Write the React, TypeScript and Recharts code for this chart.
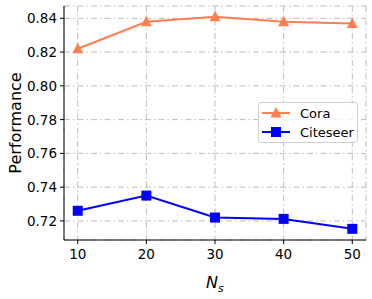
import React from "react"
import { LineChart, XAxis, YAxis, CartesianGrid, Line, Label } from "recharts"

const coralColor = "#ff7f50";
const blueColor = "#0000ff";
const gridColor = "#bdbdbd";
const fontFamily = "DejaVu Sans";

const samples = [10, 20, 30, 40, 50];
const coraScores = [0.822, 0.838, 0.841, 0.838, 0.837];
const citeseerScores = [0.726, 0.735, 0.722, 0.7212, 0.7153];
const yTicks = [0.72, 0.74, 0.76, 0.78, 0.80, 0.82, 0.84];

const data = samples.map((s, i) => ({ ns: s, cora: coraScores[i], citeseer: citeseerScores[i] }));

const TriangleDot = (props: any) => {
    const { cx, cy, index } = props;
    if (cx == null || cy == null) return <g key={index} />;
    return <polygon key={index} points={`${cx},${cy - 6} ${cx - 5.5},${cy + 4.5} ${cx + 5.5},${cy + 4.5}`} fill={coralColor} />;
};

const SquareDot = (props: any) => {
    const { cx, cy, index } = props;
    if (cx == null || cy == null) return <g key={index} />;
    return <rect key={index} x={cx - 5} y={cy - 5} width={10} height={10} fill={blueColor} />;
};

const XTick = (props: any) => {
    const { x, payload } = props;
    return <text x={x} y={259} textAnchor="middle" fontFamily={fontFamily} fontSize={13.5} fill="#000">{payload.value}</text>;
};

const YTick = (props: any) => {
    const { y, payload } = props;
    return <text x={57} y={y + 5} textAnchor="end" fontFamily={fontFamily} fontSize={13.5} fill="#000">{payload.value.toFixed(2)}</text>;
};

const XTitle = (props: any) => {
    const { viewBox } = props;
    const x = viewBox.x + viewBox.width / 2;
    return (
        <text x={x - 9} y={288} fontFamily={fontFamily} fontSize={16} fontStyle="italic" fill="#000">
            N<tspan fontSize={11} dy={4}>s</tspan>
        </text>
    );
};

const YTitle = () => (
    <text x={0} y={0} transform="translate(21,123) rotate(-90)" textAnchor="middle"
        fontFamily={fontFamily} fontSize={16} fill="#000">Performance</text>
);

const LegendBox = () => (
    <div style={{
        position: "absolute", left: 258, top: 102, width: 100, height: 41,
        border: "1px solid #d0d0d0", borderRadius: 3, background: "rgba(255,255,255,0.8)",
        boxSizing: "border-box",
    }}>
        <svg width={100} height={41} style={{ position: "absolute", left: -1, top: -1 }}>
            <line x1={4} y1={11} x2={32} y2={11} stroke={coralColor} strokeWidth={2} />
            <polygon points="18,5 12.5,15.5 23.5,15.5" fill={coralColor} />
            <text x={42} y={16} fontFamily={fontFamily} fontSize={13} fill="#000">Cora</text>
            <line x1={4} y1={30} x2={32} y2={30} stroke={blueColor} strokeWidth={2} />
            <rect x={13} y={25} width={10} height={10} fill={blueColor} />
            <text x={42} y={35} fontFamily={fontFamily} fontSize={13} fill="#000">Citeseer</text>
        </svg>
    </div>
);

export default function App() {
    return (
        <div style={{ position: "absolute", left: 0, top: 0, width: 372, height: 299, background: "#fff" }}>
            <LineChart width={372} height={299} data={data} margin={{ top: 6, right: 6, bottom: 29, left: 0 }}>
                <CartesianGrid stroke={gridColor} strokeDasharray="6 3 1.5 3" strokeWidth={1} />
                <XAxis dataKey="ns" type="number" domain={[8, 52]} ticks={samples} height={30}
                    tick={<XTick />} tickSize={4} stroke="#000" allowDataOverflow>
                    <Label content={<XTitle />} />
                </XAxis>
                <XAxis xAxisId="top" orientation="top" dataKey="ns" type="number" domain={[8, 52]} height={0}
                    tick={false} tickLine={false} stroke="#000" />
                <YAxis type="number" domain={[0.7087, 0.8473]} ticks={yTicks} width={64}
                    tick={<YTick />} tickSize={4} stroke="#000" allowDataOverflow>
                    <Label content={<YTitle />} />
                </YAxis>
                <YAxis yAxisId="right" orientation="right" domain={[0.7087, 0.8473]} width={0}
                    tick={false} tickLine={false} stroke="#000" />
                <Line dataKey="cora" stroke={coralColor} strokeWidth={2} dot={<TriangleDot />} isAnimationActive={false} />
                <Line dataKey="citeseer" stroke={blueColor} strokeWidth={2} dot={<SquareDot />} isAnimationActive={false} />
            </LineChart>
            <LegendBox />
        </div>
    );
}
